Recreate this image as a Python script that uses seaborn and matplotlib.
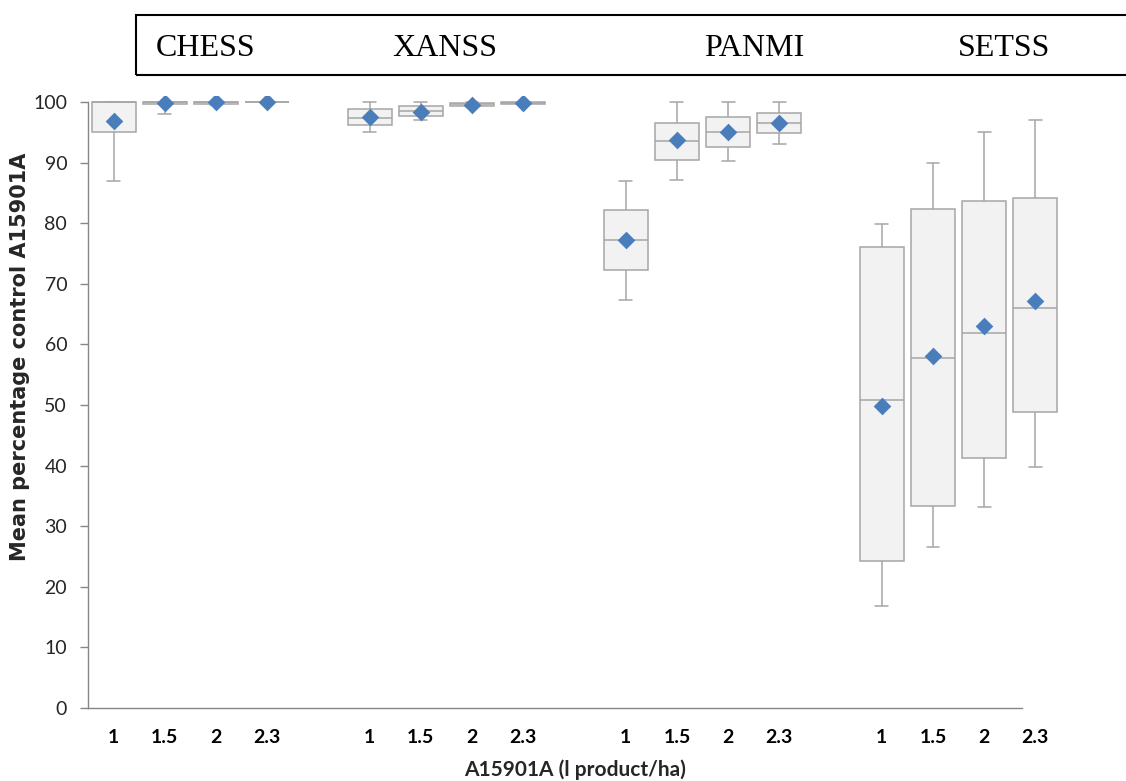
import pandas as pd
import matplotlib.pyplot as plt
import numpy as np
import seaborn as sns

# species groups and doses (l product/ha)
groups = ['CHESS', 'XANSS', 'PANMI', 'SETSS']
doses = ['1', '1.5', '2', '2.3']

# five-number summaries per box (group by group, dose by dose)
whislo = [87.0, 98.0, 99.5, 100.0,
          95.0, 97.0, 99.2, 99.6,
          67.4, 87.1, 90.2, 93.1,
          16.8, 26.6, 33.2, 39.8]
q1 = [95.0, 99.6, 99.7, 100.0,
      96.2, 97.7, 99.3, 99.7,
      72.3, 90.4, 92.6, 94.8,
      24.3, 33.4, 41.3, 48.8]
median = [100.0, 100.0, 100.0, 100.0,
          97.4, 98.5, 99.6, 99.9,
          77.2, 93.6, 95.0, 96.5,
          50.9, 57.8, 61.9, 66.0]
q3 = [100.0, 100.0, 100.0, 100.0,
      98.8, 99.3, 99.8, 100.0,
      82.1, 96.6, 97.5, 98.2,
      76.1, 82.4, 83.7, 84.2]
whishi = [100.0, 100.0, 100.0, 100.0,
          100.0, 100.0, 100.0, 100.0,
          86.9, 100.0, 100.0, 100.0,
          79.9, 90.0, 95.0, 97.0]
means = [96.9, 99.8, 100.0, 100.0,
         97.5, 98.4, 99.5, 99.9,
         77.2, 93.7, 95.0, 96.6,
         49.8, 58.0, 63.1, 67.2]

# category order with an empty slot between groups
order = []
labels = []
for i, g in enumerate(groups):
    for d in doses:
        order.append(g + ' ' + d)
        labels.append(d)
    if i < len(groups) - 1:
        order.append('gap%d' % i)
        labels.append('')

names = [g + ' ' + d for g in groups for d in doses]
rows = []
for k, n in enumerate(names):
    for v in (whislo[k], q1[k], median[k], q3[k], whishi[k]):
        rows.append({'slot': n, 'value': v})
df = pd.DataFrame(rows)
df_mean = pd.DataFrame({'slot': names, 'mean': means})

sns.set_style('white')
plt.rcParams['font.family'] = ['Lato', 'DejaVu Sans']

W, H = 1126, 781
fig = plt.figure(figsize=(W / 100, H / 100), dpi=100)
ax = fig.add_axes([88 / W, (H - 708) / H, (W - 88) / W, (708 - 95.9) / H])

edge = '#a6a6a6'
sns.boxplot(data=df, x='slot', y='value', order=order, whis=(0, 100),
            width=0.86, color='#f2f2f2', linecolor=edge, linewidth=1.1,
            saturation=1, capwidths=0.25, showfliers=False, ax=ax)
sns.stripplot(data=df_mean, x='slot', y='mean', order=order, jitter=False,
              marker='D', size=9, color='#4a7ebb', linewidth=0, ax=ax, zorder=5)

ax.set_xlim(-0.5, 19.77)
ax.set_ylim(0, 101)
ax.set_yticks(np.arange(0, 101, 10))
ax.set_xticks(range(len(order)))
ax.set_xticklabels(labels, fontweight='bold', fontsize=14)
ax.tick_params(axis='y', labelsize=14, length=6, width=1, color='#868686',
               direction='out', left=True, pad=9)
ax.tick_params(axis='x', length=0, pad=15)
for lab in ax.get_yticklabels():
    lab.set_color('#262626')
for lab in ax.get_xticklabels():
    lab.set_color('black')

for s in ['top', 'right']:
    ax.spines[s].set_visible(False)
for s in ['left', 'bottom']:
    ax.spines[s].set_color('#868686')
    ax.spines[s].set_linewidth(1)
ax.spines['left'].set_bounds(0, 100)
ax.spines['bottom'].set_bounds(-0.5, 17.73)

ax.set_xlabel('A15901A (l product/ha)', fontweight='bold', fontsize=15)
ax.xaxis.set_label_coords((575 - 88) / 1038, -(770 - 708) / (708 - 95.9))
ax.xaxis.label.set_va('center')
ax.set_ylabel('Mean percentage control A15901A', family='DejaVu Sans',
              fontweight='bold', fontsize=15)
ax.yaxis.set_label_coords(-(88 - 20) / 1038, (708 - 357) / (708 - 95.9))
ax.yaxis.label.set_va('center')

# header box with species names
fig.add_artist(plt.Rectangle((136 / W, 1 - 75 / H), 1.0, 60 / H,
                             transform=fig.transFigure, fill=False,
                             edgecolor='black', linewidth=1.5))
for name, px in zip(groups, [156, 392, 704, 958]):
    fig.text(px / W, 1 - 56 / H, name, family='Liberation Serif', fontsize=23,
             ha='left', va='baseline', color='black')

fig.savefig('out.png', dpi=100)
